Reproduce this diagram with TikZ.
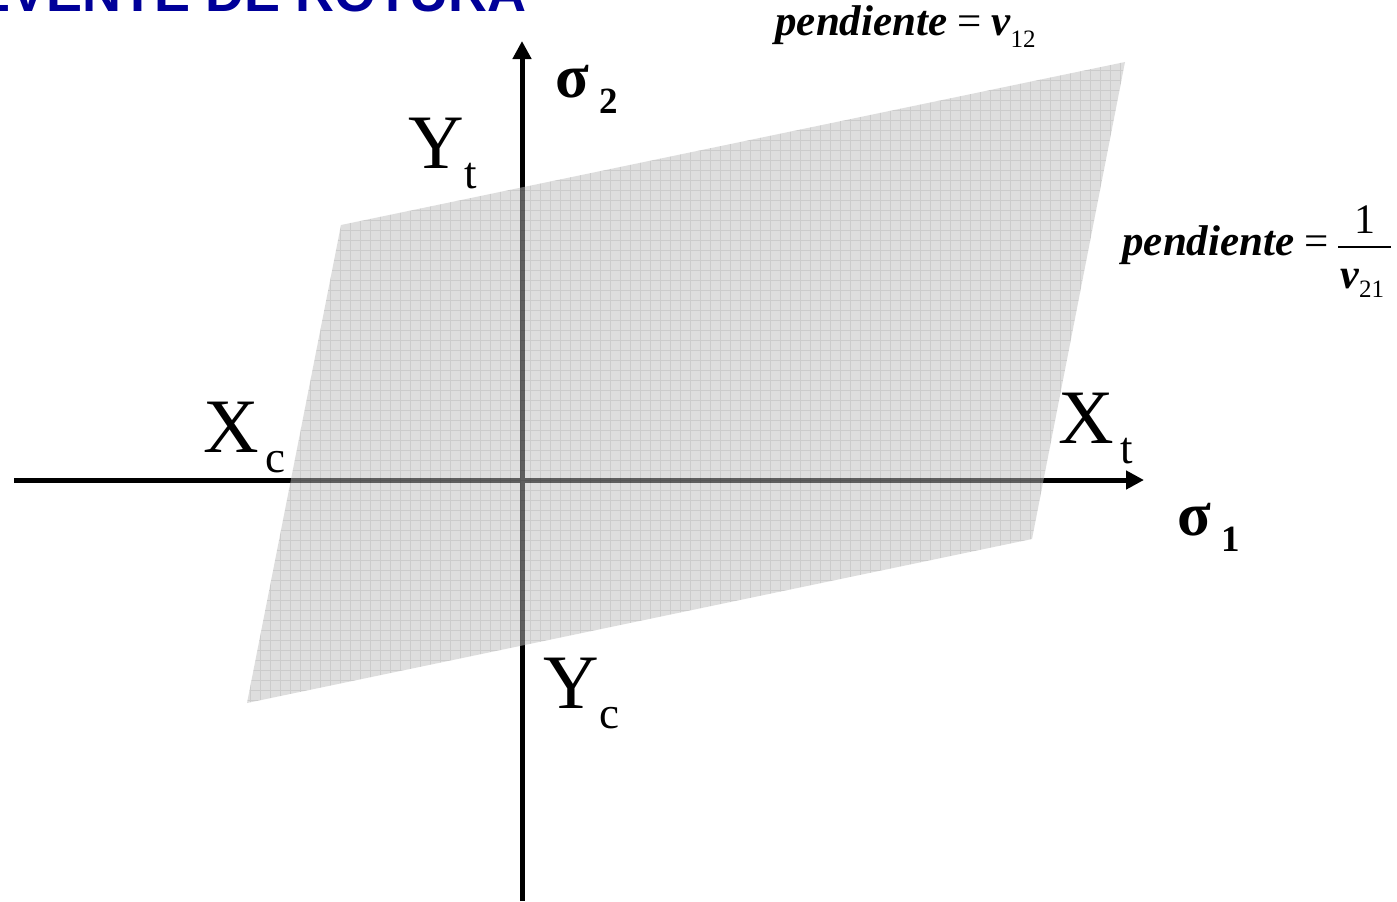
\documentclass[tikz,border=0pt]{standalone}
\usepackage{fontspec}
\setmainfont{Liberation Serif}
\newfontfamily\titlefont{Liberation Sans}
\usepackage{xcolor}
\usepackage{tikz}
\usetikzlibrary{arrows.meta}
\definecolor{titleblue}{RGB}{0,0,153}
\definecolor{shadegray}{gray}{0.74}

\tikzset{
  axis/.style={line width=2.5pt,-{Triangle[length=9pt,width=9pt]}},
  lbl/.style={inner sep=0pt,anchor=base west},
  zone/.style={fill=shadegray,fill opacity=0.5},
  gridline/.style={black,draw opacity=0.08,line width=0.5pt}
}
% letter with lowered index
\newcommand{\limitlabel}[3]{{\fontsize{38.5}{40}\selectfont #1}\hspace{#3}\raisebox{-10pt}{\fontsize{22.5}{24}\selectfont #2}}
\newcommand{\sigmalabel}[1]{{\fontsize{31}{32}\selectfont\bfseries σ}\hspace{5pt}\raisebox{-8pt}{\fontsize{18.5}{20}\selectfont\bfseries #1}}
\newcommand{\slopeword}{{\bfseries\itshape pendiente}}

\begin{document}
\begin{tikzpicture}[x=0.5pt,y=-0.5pt,>=Stealth]
\useasboundingbox (0,0) rectangle (1397,901);
\node[lbl,text=titleblue] (title) at (-26,11) {\titlefont\bfseries\fontsize{27}{28}\selectfont EVENTE DE ROTURA};
% ejes
\coordinate (s1start) at (14,480);
\coordinate (s1end) at (1144,480);
\coordinate (s2start) at (522,901);
\coordinate (s2end) at (522,41);
\draw[axis] (s1start) -- (s1end);
\draw[axis] (s2start) -- (s2end);
% envolvente
\coordinate (tl) at (341,225);
\coordinate (tr) at (1125,62);
\coordinate (br) at (1032,539);
\coordinate (bl) at (247,703);
\fill[zone] (tl) -- (tr) -- (br) -- (bl) -- cycle;
\begin{scope}
\clip (tl) -- (tr) -- (br) -- (bl) -- cycle;
\draw[gridline] (240,60) grid[step=5pt] (1130,710);
\end{scope}
% etiquetas
\node[lbl] (s2) at (555,97) {\sigmalabel{2}};
\node[lbl] (s1) at (1177,535) {\sigmalabel{1}};
\node[lbl] (yt) at (408,168) {\limitlabel{Y}{t}{0pt}};
\node[lbl] (xc) at (203,452) {\limitlabel{X}{c}{3pt}};
\node[lbl] (xt) at (1058,443) {\limitlabel{X}{t}{3pt}};
\node[lbl] (yc) at (543,708) {\limitlabel{Y}{c}{0pt}};
% pendientes
\node[lbl] (slope12) at (775,35) {\fontsize{21.5}{22}\selectfont\slopeword\hspace{5pt}=\hspace{5pt}{\bfseries\itshape ν}\raisebox{-6pt}{\fontsize{12.5}{13}\selectfont 12}};
\node[lbl] (slope21) at (1122,255) {\fontsize{21.5}{22}\selectfont\slopeword\hspace{5pt}=};
\node[inner sep=0pt,anchor=base] (num) at (1365,233) {\fontsize{21}{22}\selectfont 1};
\node[lbl] (den) at (1340,288) {\fontsize{21}{22}\selectfont{\bfseries\itshape ν}\raisebox{-4.5pt}{\fontsize{12.5}{13}\selectfont 21}};
\draw[line width=0.9pt] (1338,247) -- (1391,247);
\end{tikzpicture}
\end{document}
